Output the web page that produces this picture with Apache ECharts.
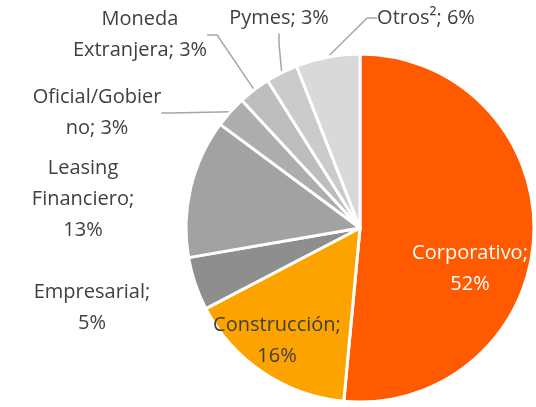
<!DOCTYPE html>
<html>
<head>
<meta charset="utf-8">
<script src="https://cdn.jsdelivr.net/npm/echarts@6/dist/echarts.min.js"></script>
<style>
  html, body { margin: 0; padding: 0; background: #fff; }
  #myChart { width: 536px; height: 407px; }
</style>
</head>
<body>
<div id="myChart"></div>
<script>
// slices, clockwise from 12 o'clock
var categories = ['Corporativo', 'Construcción', 'Empresarial', 'Leasing Financiero',
                  'Oficial/Gobierno', 'Moneda Extranjera', 'Pymes', 'Otros²'];
var shares = [52, 16, 5, 13, 3, 3, 3, 6];
var labelTexts = ['Corporativo;\n52%', 'Construcción;\n16%', 'Empresarial;\n5%',
                  'Leasing\nFinanciero;\n13%', 'Oficial/Gobier\nno; 3%',
                  'Moneda\nExtranjera; 3%', 'Pymes; 3%', 'Otros²; 6%'];

var colors = ['#FF5A00', '#FCA300', '#8E8E8E', '#A2A2A2', '#ADADAD', '#BDBDBD', '#CBCBCB', '#D9D9D9'];
// where each label sits (center of text block)
var labelPos = [[470, 269], [277, 341], [92, 308], [83, 199], [97, 113], [140, 35], [279, 18], [426, 18]];
var inside = [true, true, false, false, false, false, false, false];
var withLine = [false, false, false, false, true, true, true, true];

var seriesData = categories.map(function(name, i){
  return {
    name: name,
    value: shares[i],
    itemStyle: { color: colors[i] },
    label: {
      position: inside[i] ? 'inside' : 'outside',
      color: i === 0 ? '#fff' : '#404040'
    },
    labelLine: { show: withLine[i] }
  };
});

var option = {
  animation: false,
  series: [{
    type: 'pie',
    center: [360, 228],
    radius: 174,
    startAngle: 90,
    clockwise: true,
    avoidLabelOverlap: false,
    itemStyle: { borderColor: '#fff', borderWidth: 3 },
    label: {
      show: true,
      fontFamily: 'Open Sans',
      fontSize: 20,
      lineHeight: 31,
      align: 'center',
      formatter: function(p){ return labelTexts[p.dataIndex]; }
    },
    labelLine: {
      lineStyle: { color: '#A6A6A6', width: 1.5 },
      length: 12,
      length2: 10
    },
    labelLayout: function(p){
      var pos = labelPos[p.dataIndex];
      return { x: pos[0], y: pos[1], align: 'center', verticalAlign: 'middle' };
    },
    data: seriesData
  }]
};

var myChart = echarts.init(document.getElementById('myChart'));
myChart.setOption(option);
</script>
</body>
</html>
